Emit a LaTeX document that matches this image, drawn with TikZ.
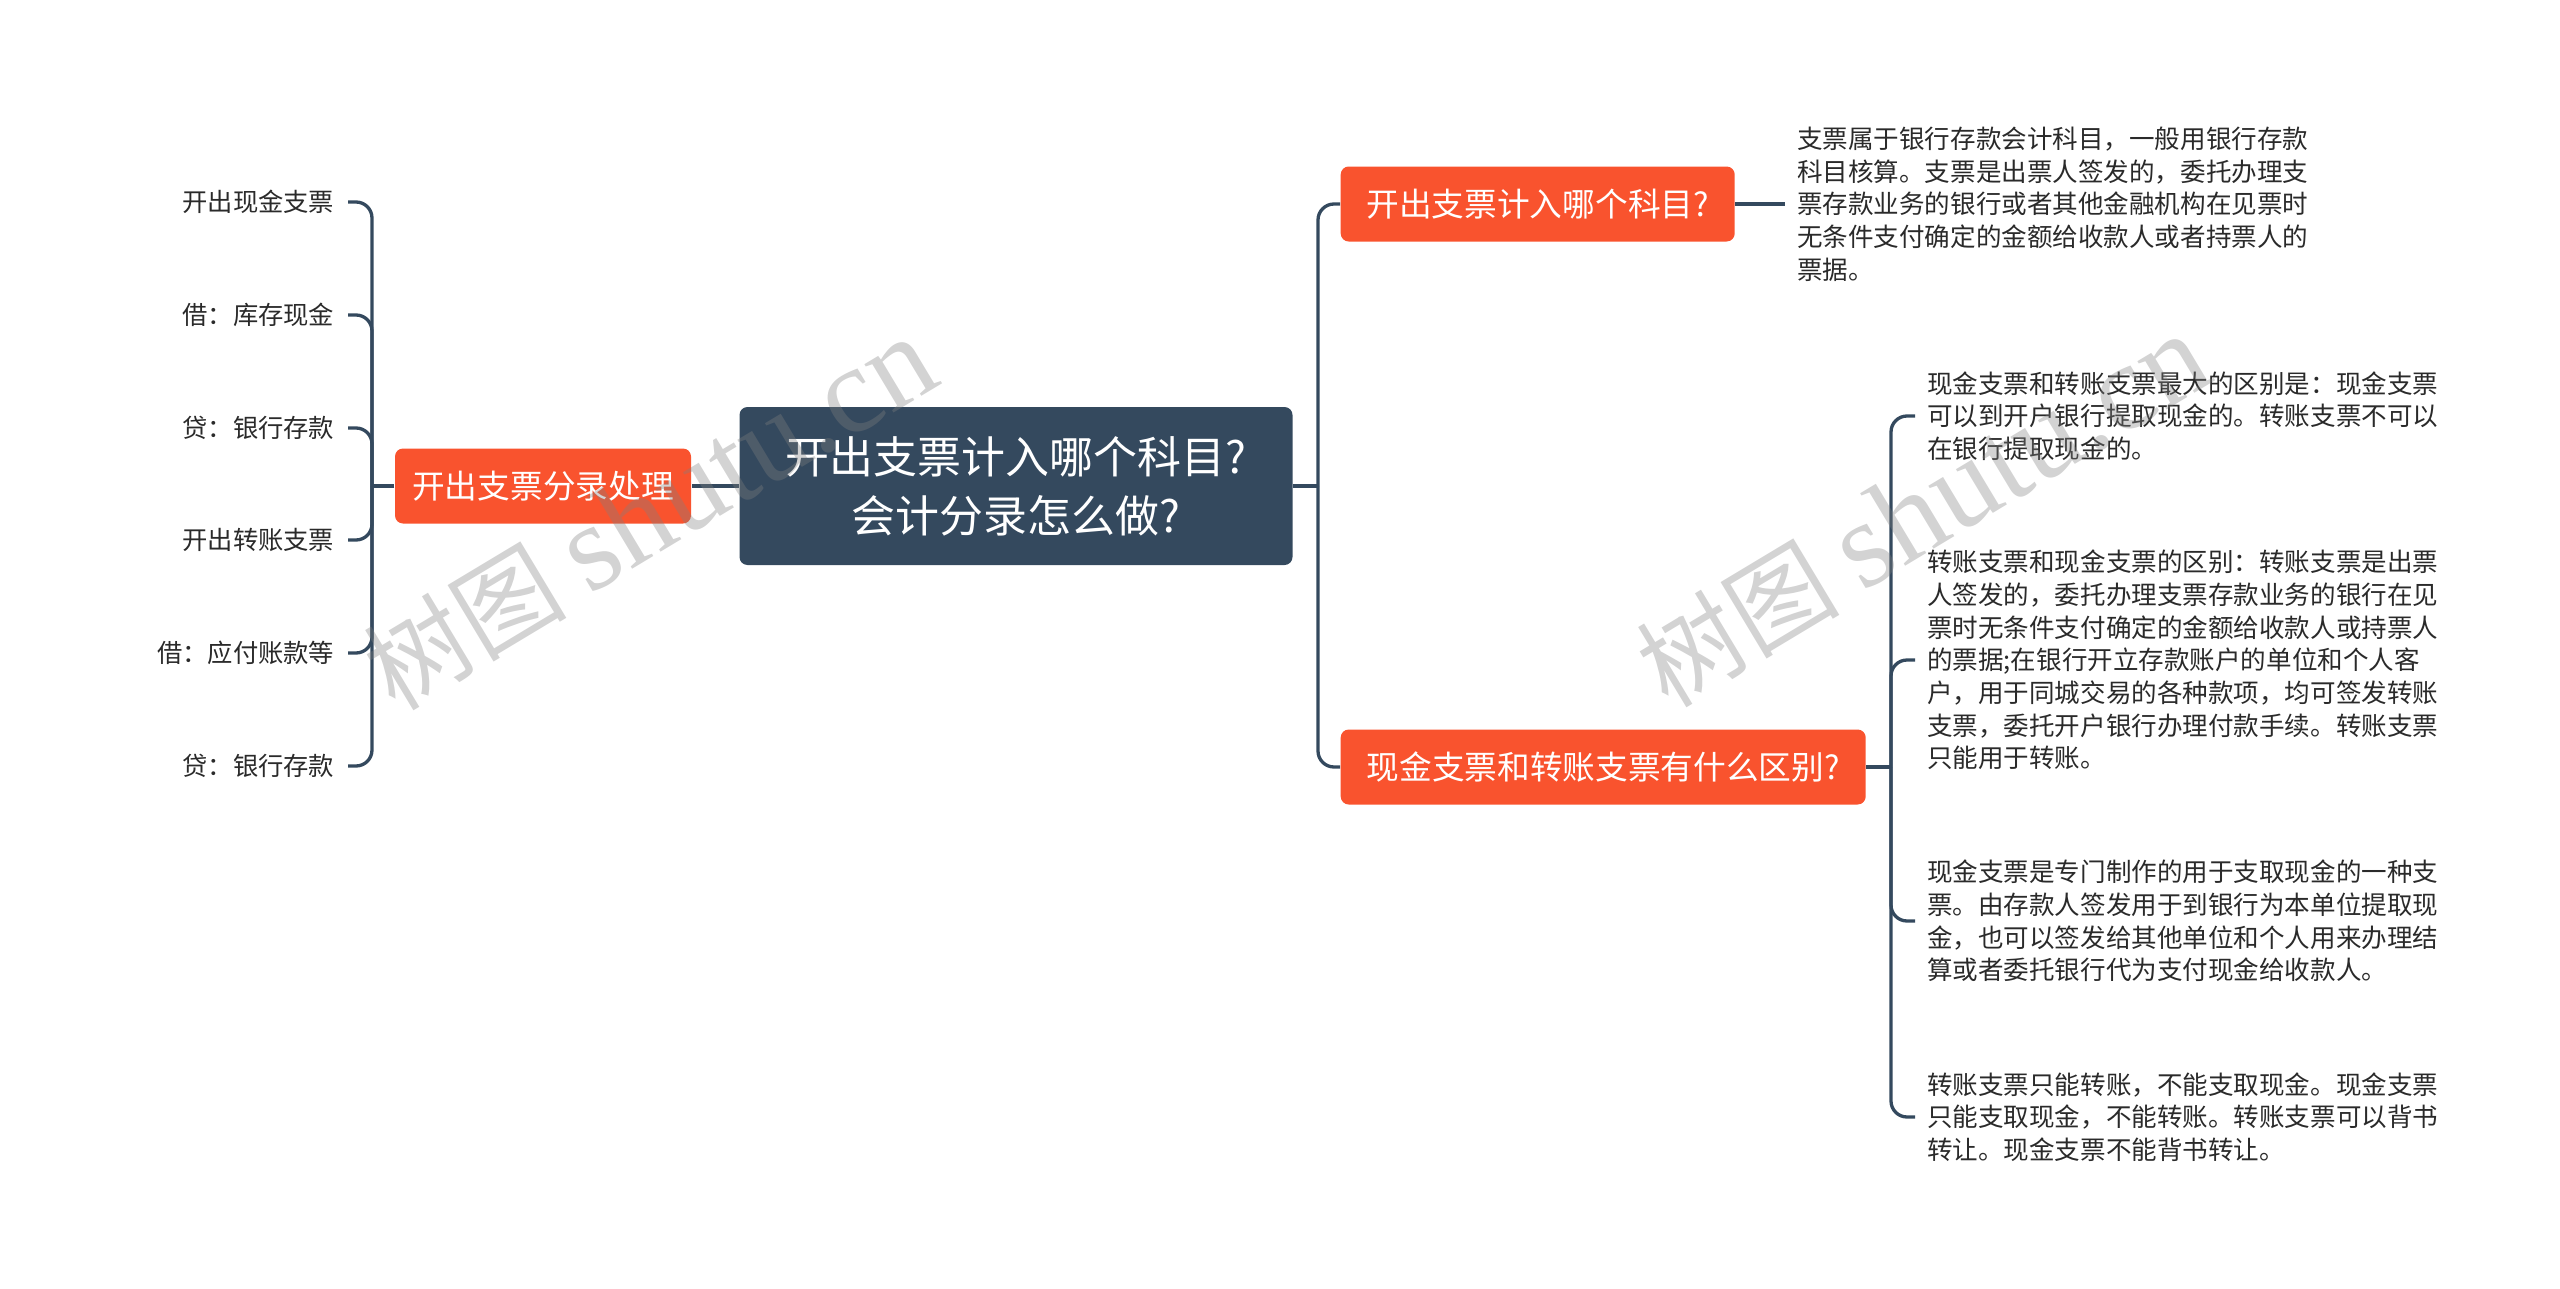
\documentclass[tikz,border=0pt]{standalone}
\usepackage{fontspec}
\setmainfont{Noto Sans CJK SC}
\newfontfamily\wmlatin{Liberation Serif}
\usetikzlibrary{positioning}
\definecolor{slate}{HTML}{34495E}
\definecolor{tomato}{HTML}{F9532E}
\definecolor{ink}{HTML}{2A2A2A}

\begin{document}
\begin{tikzpicture}[x=0.1mm,y=-0.1mm,
  link/.style={draw=slate,line width=0.33mm,rounded corners=1.6mm},
  rootbox/.style={fill=slate,text=white,rounded corners=0.8mm,minimum width=55.3mm,minimum height=15.8mm,align=center,font=\fontsize{12.5}{16.8}\selectfont},
  topicbox/.style={fill=tomato,text=white,rounded corners=0.8mm,minimum height=7.5mm,inner xsep=0mm,font=\fontsize{9.3}{11}\selectfont},
  entry/.style={anchor=east,text=ink,inner xsep=1.3mm,font=\fontsize{7.2}{9}\selectfont},
  notetext/.style={anchor=west,text=ink,align=left,inner xsep=1.15mm,font=\fontsize{7.27}{9.29}\selectfont},
  wmark/.style={text=gray,opacity=0.35,rotate=31,font=\fontsize{29}{34}\selectfont}]
\useasboundingbox (0,0) rectangle (2560,1289);

\node[rootbox] (root) at (1016,486) {开出支票计入哪个科目?\\会计分录怎么做?};

% left side
\node[topicbox,minimum width=29.6mm] (entries) at (543,486) {开出支票分录处理};
\node[entry] (l1) at (348,202) {开出现金支票};
\node[entry] (l2) at (348,315) {借：库存现金};
\node[entry] (l3) at (348,428) {贷：银行存款};
\node[entry] (l4) at (348,540) {开出转账支票};
\node[entry] (l5) at (348,653) {借：应付账款等};
\node[entry] (l6) at (348,766) {贷：银行存款};
\coordinate (lj) at (372,486);
\draw[link] (root.west) -- (entries.east);
\draw[link] (entries.west) -- (lj);
\foreach \i in {1,...,6} \draw[link] (lj) |- (l\i.east);

% right side
\node[topicbox,anchor=west,minimum width=39.4mm] (t1) at (1340,204) {开出支票计入哪个科目?};
\node[topicbox,anchor=west,minimum width=52.5mm] (t2) at (1340,767) {现金支票和转账支票有什么区别?};
\coordinate (rj) at (1318,486);
\draw[link] (root.east) -- (rj);
\draw[link] (rj) |- (t1.west);
\draw[link] (rj) |- (t2.west);

\node[notetext] (n1) at (1785,204) {支票属于银行存款会计科目，一般用银行存款\\科目核算。支票是出票人签发的，委托办理支\\票存款业务的银行或者其他金融机构在见票时\\无条件支付确定的金额给收款人或者持票人的\\票据。};
\draw[link] (t1.east) -- (n1.west);

\node[notetext] (m1) at (1915,416) {现金支票和转账支票最大的区别是：现金支票\\可以到开户银行提取现金的。转账支票不可以\\在银行提取现金的。};
\node[notetext] (m2) at (1915,660) {转账支票和现金支票的区别：转账支票是出票\\人签发的，委托办理支票存款业务的银行在见\\票时无条件支付确定的金额给收款人或持票人\\的票据;在银行开立存款账户的单位和个人客\\户，用于同城交易的各种款项，均可签发转账\\支票，委托开户银行办理付款手续。转账支票\\只能用于转账。};
\node[notetext] (m3) at (1915,921) {现金支票是专门制作的用于支取现金的一种支\\票。由存款人签发用于到银行为本单位提取现\\金，也可以签发给其他单位和个人用来办理结\\算或者委托银行代为支付现金给收款人。};
\node[notetext] (m4) at (1915,1117) {转账支票只能转账，不能支取现金。现金支票\\只能支取现金，不能转账。转账支票可以背书\\转让。现金支票不能背书转让。};
\coordinate (sj) at (1891,767);
\draw[link] (t2.east) -- (sj);
\foreach \i in {1,...,4} \draw[link] (sj) |- (m\i.west);

% watermarks
\node[wmark] (w1) at (650,514) {树图 {\wmlatin\fontsize{35}{40}\selectfont shutu.cn}};
\node[wmark] (w2) at (1923,511) {树图 {\wmlatin\fontsize{35}{40}\selectfont shutu.cn}};
\end{tikzpicture}
\end{document}
